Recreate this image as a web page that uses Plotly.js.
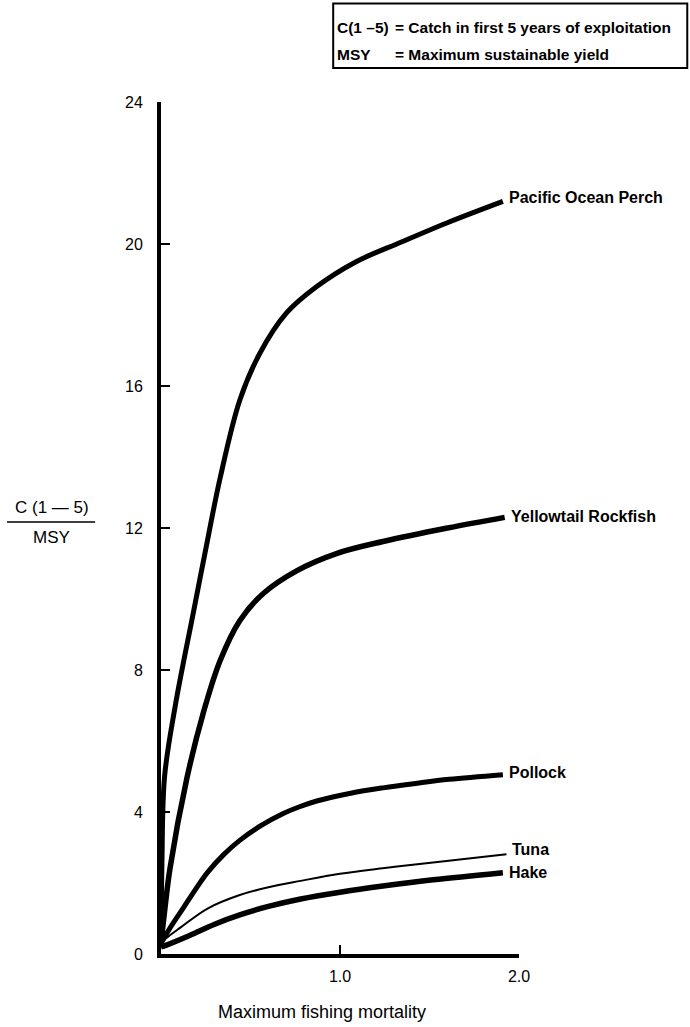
<!DOCTYPE html>
<html><head><meta charset="utf-8">
<script src="https://cdn.plot.ly/plotly-3.0.1.min.js"></script>
<style>html,body{margin:0;padding:0;background:#fff}#chart{width:690px;height:1027px}</style>
</head><body><div id="chart"></div>
<script>
// ---- data ----
const seriesNames = ["Pacific Ocean Perch", "Yellowtail Rockfish", "Pollock", "Tuna", "Hake"];

const popX = [0, 0.005, 0.02, 0.08, 0.18, 0.25, 0.33, 0.44, 0.55, 0.70, 0.87, 1.09, 1.34, 1.60, 1.91];
const popY = [0.3, 2.5, 5.0, 7.0, 9.6, 11.4, 13.4, 15.6, 16.9, 18.05, 18.8, 19.5, 20.05, 20.6, 21.2];

const yrX = [0, 0.02, 0.05, 0.145, 0.235, 0.33, 0.44, 0.57, 0.76, 0.98, 1.24, 1.60, 1.92];
const yrY = [0.3, 1.2, 2.4, 4.96, 6.77, 8.26, 9.39, 10.15, 10.8, 11.28, 11.62, 12.0, 12.3];

const polX = [0, 0.05, 0.125, 0.19, 0.26, 0.35, 0.44, 0.56, 0.68, 0.77, 0.87, 1.06, 1.24, 1.43, 1.61, 1.91];
const polY = [0.3, 0.73, 1.3, 1.8, 2.3, 2.8, 3.2, 3.62, 3.95, 4.14, 4.31, 4.53, 4.68, 4.81, 4.92, 5.05];

const tunaX = [0, 0.03, 0.11, 0.26, 0.44, 0.60, 0.78, 1.00, 1.25, 1.52, 1.93];
const tunaY = [0.3, 0.45, 0.75, 1.28, 1.66, 1.88, 2.06, 2.26, 2.42, 2.58, 2.81];

const hakeX = [0, 0.03, 0.16, 0.30, 0.44, 0.60, 0.78, 1.00, 1.25, 1.52, 1.91];
const hakeY = [0.2, 0.25, 0.52, 0.84, 1.10, 1.34, 1.55, 1.74, 1.92, 2.09, 2.29];

const yTickVals = [0, 4, 8, 12, 16, 20, 24];
const yTickText = ["0", "4", "8", "12", "16", "20", "24"];
const xTickVals = [1, 2];
const xTickText = ["1.0", "2.0"];

const yTitleTop = "C (1 \u2014 5)";
const yTitleBottom = "MSY";
const xTitle = "Maximum fishing mortality";
const keyRows = [
  ["C(1 \u20135)", "= Catch in first 5 years of exploitation"],
  ["MSY", "= Maximum sustainable yield"]
];

// ---- build chart ----
const xs = [popX, yrX, polX, tunaX, hakeX];
const ys = [popY, yrY, polY, tunaY, hakeY];
const widths = [5, 5.5, 5, 2, 5.5];
const labelShift = [4, 1, 2, 5, 0];
const FONT = "Liberation Sans, Arial, sans-serif";

const traces = seriesNames.map((n, i) => ({
  type: "scatter", mode: "lines", name: n,
  x: xs[i], y: ys[i],
  line: {color: "#000", width: widths[i], shape: "spline", smoothing: 1.0},
  cliponaxis: false, hoverinfo: "skip"
}));

const annotations = seriesNames.map((n, i) => ({
  x: xs[i][xs[i].length - 1], y: ys[i][ys[i].length - 1],
  xref: "x", yref: "y", text: n, showarrow: false,
  xanchor: "left", yanchor: "middle", xshift: 4, yshift: labelShift[i],
  font: {family: FONT, size: 16, color: "#000", weight: "bold"}
}));

// y-axis fraction title
annotations.push({xref: "paper", yref: "paper", x: -0.3045, y: 0.5235, text: yTitleTop,
  showarrow: false, xanchor: "center", yanchor: "middle",
  font: {family: FONT, size: 17, color: "#000"}});
annotations.push({xref: "paper", yref: "paper", x: -0.3045, y: 0.4894, text: yTitleBottom,
  showarrow: false, xanchor: "center", yanchor: "middle",
  font: {family: FONT, size: 17, color: "#000"}});

// x-axis title
annotations.push({xref: "paper", yref: "paper", x: 0.45, y: -0.068, text: xTitle,
  showarrow: false, xanchor: "center", yanchor: "middle",
  font: {family: FONT, size: 18, color: "#000"}});

// key box text
keyRows.forEach((r, k) => {
  annotations.push({xref: "paper", yref: "paper", x: 0.485, y: 1.0, text: r[0],
    showarrow: false, xanchor: "left", yanchor: "middle", yshift: 75 - 27 * k,
    font: {family: FONT, size: 15.5, color: "#000", weight: "bold"}});
  annotations.push({xref: "paper", yref: "paper", x: 0.648, y: 1.0, text: r[1],
    showarrow: false, xanchor: "left", yanchor: "middle", yshift: 75 - 27 * k,
    font: {family: FONT, size: 15.5, color: "#000", weight: "bold"}});
});

const layout = {
  width: 690, height: 1027,
  margin: {l: 161, r: 171, t: 102, b: 73},
  paper_bgcolor: "#fff", plot_bgcolor: "#fff",
  showlegend: false,
  font: {family: FONT, size: 16, color: "#000"},
  xaxis: {
    range: [0, 2], showgrid: false, zeroline: false,
    showline: true, linecolor: "#000", linewidth: 4,
    ticks: "inside", ticklen: 9, tickwidth: 2, tickcolor: "#000",
    tickvals: xTickVals, ticktext: xTickText, ticklabelstandoff: 5,
    tickfont: {family: FONT, size: 16, color: "#000"}
  },
  yaxis: {
    range: [0, 24], showgrid: false, zeroline: false,
    showline: true, linecolor: "#000", linewidth: 4,
    ticks: "inside", ticklen: 9, tickwidth: 2, tickcolor: "#000",
    tickvals: yTickVals, ticktext: yTickText, ticklabelstandoff: 11,
    tickfont: {family: FONT, size: 16, color: "#000"}
  },
  shapes: [
    {type: "line", xref: "paper", yref: "paper", x0: -0.430, x1: -0.184, y0: 0.507, y1: 0.507,
     line: {color: "#000", width: 1.5}},
    {type: "rect", xref: "paper", yref: "paper", x0: 0.481, x1: 1.47, y0: 1.04, y1: 1.1155,
     line: {color: "#000", width: 2}}
  ],
  annotations: annotations
};

Plotly.newPlot("chart", traces, layout, {displayModeBar: false, staticPlot: true});
</script></body></html>
